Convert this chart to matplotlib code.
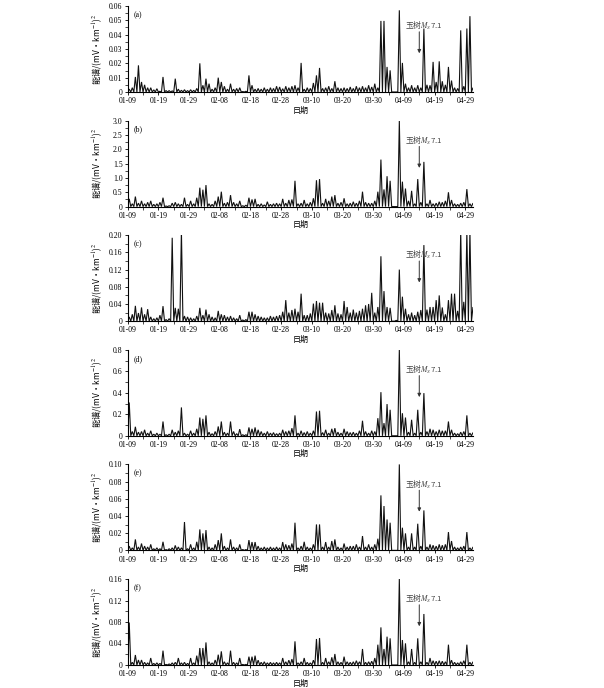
import datetime as dt
import numpy as np
import matplotlib
matplotlib.use('Agg')
import matplotlib.pyplot as plt
import matplotlib.transforms as mtransforms
from matplotlib.ticker import FixedLocator, MultipleLocator

plt.rcParams['font.family'] = ['Liberation Serif', 'Noto Sans CJK SC', 'DejaVu Sans']
plt.rcParams['mathtext.fontset'] = 'stix'

# ---------------- data ----------------
start_date = dt.date(2010, 1, 9)
quake_date = dt.date(2010, 4, 14)
date_labels = ['01-09', '01-19', '01-29', '02-08', '02-18', '02-28',
               '03-10', '03-20', '03-30', '04-09', '04-19', '04-29']
panel_labels = ['(a)', '(b)', '(c)', '(d)', '(e)', '(f)']
quake_text = '玉树$M_S$7.1'
ylabel_text = '能谱/(mV•km$^{-1}$)$^2$'
xlabel_text = '日期'

# daily peak energy spectrum, one value per day starting 01-09
spec_a = np.array([
    2, 3, 10.5, 18.6, 7, 5, 3, 3, 1.5, 2.3,
    0.5, 10.5, 1, 1, 0.8, 9.3, 2, 1.2, 1.6, 1,
    1.6, 1.2, 2.5, 20, 4.7, 9.3, 5.8, 2, 3, 10,
    7, 4, 2, 5.8, 2, 2.5, 3, 0.3, 0.5, 11.6,
    4.7, 2, 2.5, 2, 3, 2, 3, 2.5, 4, 3.5,
    2.3, 4, 3, 4, 4.7, 3, 20.3, 2, 3, 2.5,
    6.3, 11.6, 16.8, 2.5, 3, 4, 2.5, 7.5, 3, 2.5,
    3, 2.5, 3.5, 2.5, 4, 3, 4, 3, 4.7, 3.5,
    5.8, 3, 49.6, 49.6, 17.5, 15.1, 0, 0, 57, 20.3,
    5.8, 3, 4.7, 3, 4.7, 3, 44.3, 5, 4.7, 21,
    7, 21.4, 7.5, 5, 17.5, 8, 3, 2.5, 43, 4,
    44.3, 52.9, 3]) * 1e-3

spec_b = np.array([
    0.27, 0.10, 0.35, 0.12, 0.20, 0.10, 0.15, 0.20, 0.08, 0.10,
    0.15, 0.31, 0.02, 0.03, 0.12, 0.15, 0.10, 0.08, 0.31, 0.08,
    0.20, 0.10, 0.31, 0.66, 0.59, 0.75, 0.10, 0.08, 0.20, 0.35,
    0.52, 0.12, 0.15, 0.40, 0.15, 0.10, 0.20, 0.03, 0.05, 0.31,
    0.25, 0.27, 0.08, 0.10, 0.06, 0.17, 0.08, 0.10, 0.12, 0.10,
    0.27, 0.12, 0.23, 0.25, 0.90, 0.10, 0.12, 0.23, 0.10, 0.15,
    0.29, 0.92, 0.96, 0.12, 0.27, 0.20, 0.35, 0.40, 0.12, 0.15,
    0.29, 0.10, 0.12, 0.17, 0.12, 0.20, 0.52, 0.15, 0.12, 0.12,
    0.20, 0.52, 1.64, 0.60, 1.06, 0.90, 0.0, 0.0, 3.0, 0.87,
    0.63, 0.20, 0.55, 0.10, 0.96, 0.15, 1.56, 0.10, 0.23, 0.10,
    0.12, 0.17, 0.15, 0.20, 0.50, 0.23, 0.10, 0.08, 0.12, 0.15,
    0.61, 0.10, 0.12])

spec_c = np.array([
    10, 16, 35.7, 19, 32, 16, 28, 10, 6, 8,
    14, 35, 4, 6, 194, 31, 29, 210, 12, 10,
    8, 6, 12, 31, 14, 27, 16, 10, 8, 24,
    16, 14, 10, 12, 8, 6, 14, 3, 4, 22,
    22, 16, 12, 10, 8, 8, 12, 10, 12, 14,
    22, 49, 20, 26, 29, 22, 64, 14, 14, 18,
    41, 47, 43, 43, 20, 18, 26, 37, 18, 16,
    47, 33, 20, 27, 20, 24, 29, 37, 40, 66,
    20, 33, 151, 70, 33, 31, 0, 2, 120, 57,
    29, 16, 20, 14, 22, 26, 177, 27, 33, 33,
    49, 60, 32, 16, 49, 64, 64, 24, 210, 45,
    210, 210, 33]) * 1e-3

spec_d = np.array([
    31, 4, 8.4, 3.4, 4, 5.6, 2.5, 4.7, 1.5, 2.5,
    1.5, 13.3, 1, 1.5, 5.6, 3.4, 4.7, 26.4, 2.5, 1.5,
    4.7, 2.5, 6.5, 17, 15.8, 19, 3.4, 2, 4, 8.7,
    13.3, 3.4, 2.5, 13.3, 4, 2, 6.2, 1, 1, 7.8,
    6.5, 7.8, 5.6, 4, 2.5, 4, 2.5, 3, 2, 2.5,
    5.6, 4, 4.7, 7.1, 19, 2.5, 4.7, 3, 4, 2.5,
    4.7, 22.6, 23.3, 3, 5.6, 2.5, 6.5, 7.1, 3.4, 2.5,
    6.5, 4, 3, 3.4, 2.5, 4.7, 14, 4, 2.5, 4.7,
    4, 16.4, 40.6, 11.8, 29.5, 24.2, 0, 0, 80, 21,
    17, 3.4, 14.9, 2.5, 24.2, 3.4, 39.7, 4, 6.5, 5.6,
    4, 5.6, 4.7, 4.7, 13.3, 5.6, 2.5, 2, 3.4, 4,
    19, 2.5, 3]) * 1e-2

spec_e = np.array([
    5, 3, 12.8, 4, 8, 5, 4, 7, 2, 3,
    2, 10, 1, 2, 3, 5.8, 4, 3, 33, 2,
    7, 3, 10, 24.4, 19.8, 23.6, 4, 3, 7, 12,
    19.8, 5, 3, 12.8, 4, 3, 7, 1, 1, 12,
    9.7, 9.7, 5, 3, 4, 3, 4, 3, 4, 3,
    9.7, 7, 6, 8, 32.2, 3, 5, 10, 4, 3,
    7, 30.2, 30.2, 4, 9.7, 4, 10.9, 12.8, 4, 3,
    8, 4, 5, 5, 7, 4, 16.7, 4, 7, 4,
    7, 13.6, 64, 51.6, 36, 32.2, 0, 0, 100, 26.4,
    19.8, 4, 19.8, 4, 31, 5, 46.5, 4, 7, 6,
    5, 7, 6, 7, 21.3, 10.9, 4, 3, 4, 5,
    21.3, 3, 4]) * 1e-3

spec_f = np.array([
    79, 5, 18.6, 9.3, 9.3, 5, 4, 13, 3, 4,
    3, 26.7, 1, 2, 4, 5, 13, 4, 5, 3,
    13, 4, 17.4, 31.6, 31.6, 42, 6, 4, 9.3, 19.2,
    25.4, 6, 4, 26.7, 5, 4, 13, 1, 1, 15.5,
    15.5, 17.4, 9, 5, 6, 4, 5, 4, 5, 4,
    13, 6, 9, 11, 44, 4, 6, 13, 5, 4,
    9, 48.4, 50.2, 5, 13, 6, 14.3, 20.5, 6, 5,
    15.5, 6, 5, 6, 8, 6, 29.8, 5, 6, 7,
    13, 37.8, 70, 29.8, 52.7, 49.6, 0, 0, 160, 46.5,
    40.3, 6, 29.8, 5, 49.6, 6, 94.9, 5, 13, 8,
    7, 8, 7, 6, 37.8, 9, 5, 4, 6, 8,
    37.8, 5, 6]) * 1e-3

series = [spec_a, spec_b, spec_c, spec_d, spec_e, spec_f]

yticks_a = [0, 0.01, 0.02, 0.03, 0.04, 0.05, 0.06]
ylabels_a = ['0', '0.01', '0.02', '0.03', '0.04', '0.05', '0.06']
yticks_b = [0, 0.5, 1.0, 1.5, 2.0, 2.5, 3.0]
ylabels_b = ['0', '0.5', '1.0', '1.5', '2.0', '2.5', '3.0']
yticks_c = [0, 0.04, 0.08, 0.12, 0.16, 0.20]
ylabels_c = ['0', '0.04', '0.08', '0.12', '0.16', '0.20']
yticks_d = [0, 0.2, 0.4, 0.6, 0.8]
ylabels_d = ['0', '0.2', '0.4', '0.6', '0.8']
yticks_e = [0, 0.02, 0.04, 0.06, 0.08, 0.10]
ylabels_e = ['0', '0.02', '0.04', '0.06', '0.08', '0.10']
yticks_f = [0, 0.04, 0.08, 0.12, 0.16]
ylabels_f = ['0', '0.04', '0.08', '0.12', '0.16']
yticks_all = [yticks_a, yticks_b, yticks_c, yticks_d, yticks_e, yticks_f]
ylabels_all = [ylabels_a, ylabels_b, ylabels_c, ylabels_d, ylabels_e, ylabels_f]

# ---------------- layout ----------------
W, H = 604, 688
fig = plt.figure(figsize=(W / 100, H / 100), dpi=100)
left_px, right_px = 127.7, 473.3
top0, step, hgt = 6.0, 114.6, 86.0

tick_pos = [(dt.date(2010, int(s[:2]), int(s[3:])) - start_date).days for s in date_labels]
quake_day = (quake_date - start_date).days
cjk = ['Noto Sans CJK SC', 'DejaVu Sans']

for i, vals in enumerate(series):
    top = top0 + step * i
    ax = fig.add_axes([left_px / W, 1 - (top + hgt) / H, (right_px - left_px) / W, hgt / H])
    # each day drawn as a sharp peak rising from the day boundary
    n = len(vals)
    xs = np.column_stack([np.arange(n), np.arange(n) + 0.5]).ravel()
    ys = np.column_stack([np.zeros(n), vals]).ravel()
    ax.plot(np.append(xs, n), np.append(ys, 0), color='#111111', linewidth=0.8,
            solid_joinstyle='miter')
    yt = yticks_all[i]
    ax.set_xlim(0, 112.6)
    ax.set_ylim(yt[0], yt[-1])
    ax.yaxis.set_major_locator(FixedLocator(yt))
    ax.set_yticklabels(ylabels_all[i])
    ax.yaxis.set_minor_locator(MultipleLocator((yt[1] - yt[0]) / 2))
    ax.xaxis.set_major_locator(FixedLocator(tick_pos))
    ax.set_xticklabels(date_labels)
    ax.xaxis.set_minor_locator(MultipleLocator(5))
    for s in ['top', 'right']:
        ax.spines[s].set_visible(False)
    for s in ['left', 'bottom']:
        ax.spines[s].set_linewidth(0.8)
    ax.tick_params(axis='both', which='major', direction='out', length=2.5, width=0.6,
                   labelsize=5.6, pad=1.2)
    ax.tick_params(axis='both', which='minor', direction='out', length=2.0, width=0.5)

    ax.set_xlabel(xlabel_text, fontsize=5.8, family=cjk)
    ax.xaxis.set_label_coords(0.5, -18 / hgt)
    ax.xaxis.label.set_va('center')
    ax.set_ylabel(ylabel_text, fontsize=6.0, family=cjk)
    ax.yaxis.set_label_coords(-0.088, 0.5)
    ax.yaxis.label.set_va('center')

    ax.text(0.018, 0.895, panel_labels[i], transform=ax.transAxes, fontsize=5.6,
            ha='left', va='center')

    blend = mtransforms.blended_transform_factory(ax.transData, ax.transAxes)
    ax.text(quake_day + 1.5, 0.78, quake_text, transform=blend, fontsize=5.6,
            ha='center', va='center', color='#444444', family=cjk)
    ax.annotate('', xy=(quake_day, 0.45), xycoords=blend,
                xytext=(quake_day, 0.70), textcoords=blend,
                arrowprops=dict(arrowstyle='-|>', color='#333333', lw=0.7,
                                mutation_scale=5, shrinkA=0, shrinkB=0))

fig.savefig('out.png', dpi=100)
